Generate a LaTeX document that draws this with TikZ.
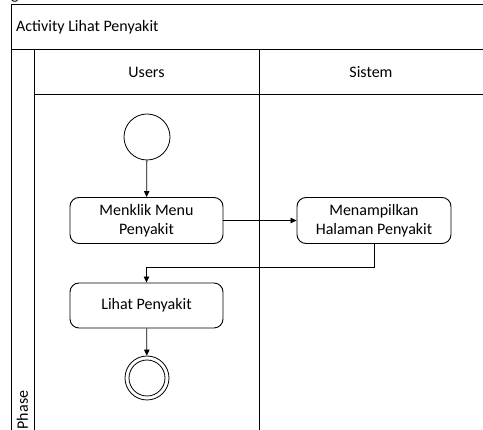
\documentclass[tikz,border=0pt]{standalone}
\usepackage{fontspec}
\setmainfont{Carlito}
\usetikzlibrary{arrows.meta}
\begin{document}
\begin{tikzpicture}[x=1pt,y=-1pt,
  every node/.style={font=\fontsize{16}{18.5}\selectfont},
  lane/.style={draw=black, line width=1pt},
  actbox/.style={draw=black, line width=0.9pt, rounded corners=9pt, align=center,
    minimum width=153pt, minimum height=46pt, inner sep=0pt},
  startnode/.style={draw=black, line width=0.8pt, circle, minimum size=46pt, inner sep=0pt},
  flow/.style={draw=black, line width=0.8pt, -{Triangle[length=6pt,width=5.5pt]}}]
\useasboundingbox (0,0) rectangle (483,430);
% heading text running off the top edge
\node[anchor=base west, inner sep=0pt] (cut) at (11,-0.5) {g};
% pool frame, title bar, phase column and the two lanes
\draw[lane] (11,440) -- (11,5) -- (495,5);
\draw[lane] (11,50) -- (495,50);
\draw[lane] (34,50) -- (34,440);
\draw[lane] (259,50) -- (259,440);
\draw[lane] (34,95) -- (495,95);
\node[anchor=west, inner sep=0pt] (title) at (16,27.5) {Activity Lihat Penyakit};
\node (users) at (146.5,72.5) {Users};
\node (sistem) at (371,72.5) {Sistem};
\node[rotate=90, anchor=west, inner sep=0pt] (phase) at (22.5,429.5) {Phase};
% activity nodes
\node[startnode] (start) at (147,137) {};
\node[actbox] (klik) at (146.5,220.5) {Menklik Menu\\Penyakit};
\node[actbox, minimum width=154pt] (tampil) at (374,220.5) {Menampilkan\\Halaman Penyakit};
\node[actbox, minimum height=45pt] (lihat) at (146.5,305.5) {Lihat Penyakit};
\node[startnode, minimum size=44pt] (end) at (147,378) {};
\node[draw=black, line width=0.8pt, circle, minimum size=36pt, inner sep=0pt] (endin) at (end) {};
% control flow
\draw[flow] (start) -- (klik);
\draw[flow] (klik) -- (tampil);
\draw[flow] (tampil.south) -- (374,267) -- (146.5,267) -- (lihat.north);
\draw[flow] (lihat) -- (end);
\end{tikzpicture}
\end{document}
